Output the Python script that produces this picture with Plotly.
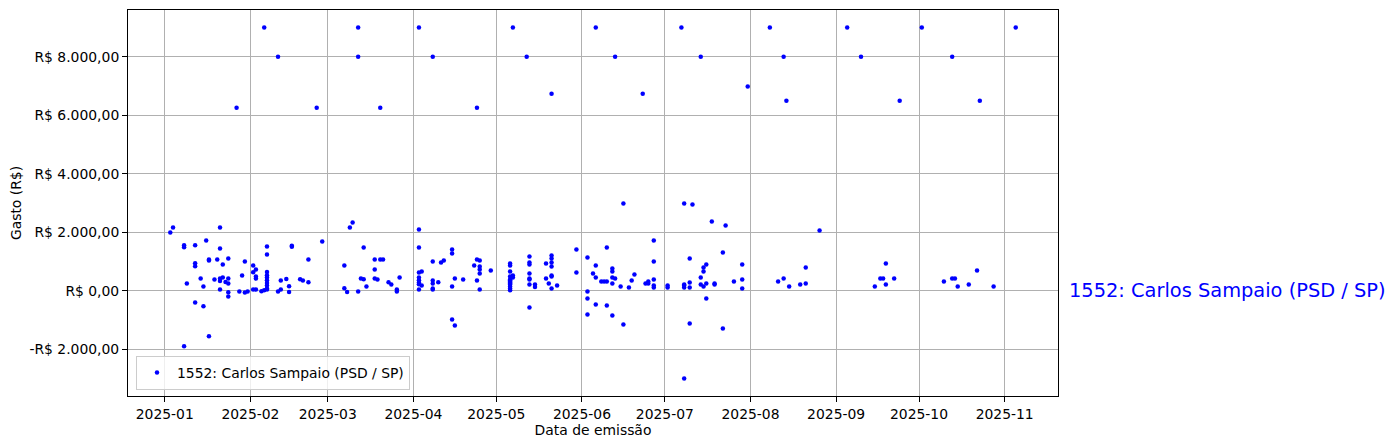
import plotly.graph_objects as go
import pandas as pd

nome = "1552: Carlos Sampaio (PSD / SP)"

datas = [
    # janeiro
    "2025-01-03",
    "2025-01-04",
    "2025-01-08", "2025-01-08", "2025-01-08",
    "2025-01-09",
    "2025-01-12", "2025-01-12", "2025-01-12", "2025-01-12",
    "2025-01-14",
    "2025-01-15", "2025-01-15",
    "2025-01-16",
    "2025-01-17", "2025-01-17", "2025-01-17",
    "2025-01-19",
    "2025-01-20",
    "2025-01-21", "2025-01-21", "2025-01-21", "2025-01-21", "2025-01-21",
    "2025-01-22", "2025-01-22",
    "2025-01-23",
    "2025-01-24", "2025-01-24", "2025-01-24", "2025-01-24", "2025-01-24",
    "2025-01-27",
    "2025-01-28",
    "2025-01-29",
    "2025-01-30", "2025-01-30",
    "2025-01-31",
    # fevereiro
    "2025-02-02", "2025-02-02", "2025-02-02",
    "2025-02-03", "2025-02-03", "2025-02-03", "2025-02-03",
    "2025-02-05",
    "2025-02-06", "2025-02-06",
    "2025-02-07", "2025-02-07", "2025-02-07", "2025-02-07", "2025-02-07",
    "2025-02-07", "2025-02-07", "2025-02-07", "2025-02-07", "2025-02-07",
    "2025-02-11", "2025-02-11",
    "2025-02-12", "2025-02-12",
    "2025-02-14",
    "2025-02-15", "2025-02-15",
    "2025-02-16", "2025-02-16",
    "2025-02-19",
    "2025-02-20",
    "2025-02-22", "2025-02-22",
    "2025-02-25",
    "2025-02-27",
    # marco
    "2025-03-07", "2025-03-07",
    "2025-03-08",
    "2025-03-09",
    "2025-03-10",
    "2025-03-12", "2025-03-12", "2025-03-12",
    "2025-03-13",
    "2025-03-14", "2025-03-14",
    "2025-03-15",
    "2025-03-18", "2025-03-18", "2025-03-18",
    "2025-03-19",
    "2025-03-20", "2025-03-20",
    "2025-03-21",
    "2025-03-23",
    "2025-03-24",
    "2025-03-26", "2025-03-26",
    "2025-03-27",
    # abril
    "2025-04-03", "2025-04-03", "2025-04-03", "2025-04-03", "2025-04-03",
    "2025-04-03", "2025-04-03", "2025-04-03", "2025-04-03",
    "2025-04-04", "2025-04-04",
    "2025-04-08", "2025-04-08", "2025-04-08", "2025-04-08", "2025-04-08", "2025-04-08",
    "2025-04-10",
    "2025-04-11",
    "2025-04-12",
    "2025-04-15", "2025-04-15", "2025-04-15", "2025-04-15",
    "2025-04-16", "2025-04-16",
    "2025-04-19",
    "2025-04-23",
    "2025-04-24", "2025-04-24", "2025-04-24",
    "2025-04-25", "2025-04-25", "2025-04-25", "2025-04-25", "2025-04-25",
    "2025-04-29",
    # maio
    "2025-05-06", "2025-05-06", "2025-05-06", "2025-05-06", "2025-05-06",
    "2025-05-06", "2025-05-06", "2025-05-06", "2025-05-06", "2025-05-06",
    "2025-05-06", "2025-05-06", "2025-05-06",
    "2025-05-07", "2025-05-07", "2025-05-07",
    "2025-05-12",
    "2025-05-13", "2025-05-13", "2025-05-13", "2025-05-13",
    "2025-05-13", "2025-05-13", "2025-05-13", "2025-05-13",
    "2025-05-15", "2025-05-15",
    "2025-05-19", "2025-05-19",
    "2025-05-20",
    "2025-05-21", "2025-05-21", "2025-05-21", "2025-05-21",
    "2025-05-21", "2025-05-21", "2025-05-21", "2025-05-21",
    "2025-05-23",
    "2025-05-30", "2025-05-30",
    # junho
    "2025-06-03", "2025-06-03", "2025-06-03", "2025-06-03",
    "2025-06-05",
    "2025-06-06", "2025-06-06", "2025-06-06", "2025-06-06",
    "2025-06-08",
    "2025-06-09",
    "2025-06-10", "2025-06-10", "2025-06-10",
    "2025-06-12", "2025-06-12", "2025-06-12", "2025-06-12", "2025-06-12",
    "2025-06-13", "2025-06-13",
    "2025-06-15",
    "2025-06-16", "2025-06-16",
    "2025-06-18",
    "2025-06-19",
    "2025-06-20",
    "2025-06-23",
    "2025-06-24",
    "2025-06-25", "2025-06-25",
    "2025-06-27", "2025-06-27", "2025-06-27", "2025-06-27", "2025-06-27",
    # julho
    "2025-07-02", "2025-07-02",
    "2025-07-07",
    "2025-07-08", "2025-07-08", "2025-07-08", "2025-07-08", "2025-07-08",
    "2025-07-10", "2025-07-10", "2025-07-10", "2025-07-10",
    "2025-07-11",
    "2025-07-14", "2025-07-14", "2025-07-14",
    "2025-07-15", "2025-07-15", "2025-07-15",
    "2025-07-16", "2025-07-16", "2025-07-16",
    "2025-07-18",
    "2025-07-19", "2025-07-19",
    "2025-07-22", "2025-07-22",
    "2025-07-23",
    "2025-07-26",
    "2025-07-29", "2025-07-29", "2025-07-29",
    "2025-07-31",
    # agosto
    "2025-08-08",
    "2025-08-11",
    "2025-08-13", "2025-08-13",
    "2025-08-14",
    "2025-08-15",
    "2025-08-19",
    "2025-08-21", "2025-08-21",
    "2025-08-26",
    # setembro
    "2025-09-05",
    "2025-09-10",
    "2025-09-15",
    "2025-09-17",
    "2025-09-18",
    "2025-09-19", "2025-09-19",
    "2025-09-22",
    "2025-09-24",
    # outubro
    "2025-10-02",
    "2025-10-10",
    "2025-10-13", "2025-10-13",
    "2025-10-14",
    "2025-10-15",
    "2025-10-19",
    "2025-10-22",
    "2025-10-23",
    "2025-10-28",
    # novembro
    "2025-11-05",
]

gastos = [
    # janeiro
    1990,
    2160,
    1556, 1487, -1897,
    246,
    1556, 940, 838, -403,
    417,
    143, -530,
    1716,
    1070, 1030, -1556,
    383,
    1066,
    2160, 1443, 417, 336, 41,
    896, 451,
    302,
    1100, 417, 246, -51, -200,
    6260,
    -27,
    519,
    998, -62,
    -27,
    # fevereiro
    860, 632, 41,
    724, 485, 417, 41,
    -17,
    9000, 17,
    1510, 1238, 643, 530, 451,
    359, 267, 178, 75, 41,
    8000, -27,
    349, 41,
    405,
    154, -41,
    1540, 1500,
    393,
    349,
    1066, 291,
    6260,
    1682,
    # marco
    860, 85,
    -41,
    2160,
    2332,
    9000, 8000, -27,
    417,
    1476, 393,
    143,
    1066, 724, 417,
    383,
    6260, 1066,
    1066,
    291,
    212,
    41, -27,
    451,
    # abril
    9000, 2092, 1476, 622, 451,
    359, 280, 222, 41,
    656, 178,
    8000, 998, 349, 246, 75, 41,
    291,
    964,
    1032,
    1409, 1272, 143, -985,
    417, -1190,
    383,
    860,
    6260, 1066, 349,
    1032, 827, 724, 588, 41,
    690,
    # maio
    930, 860, 656, 485, 383,
    359, 314, 280, 246, 212,
    143, 75, 17,
    9000, 519, 451,
    8000,
    1169, 964, 896, 588,
    417, 383, 212, -575,
    212, 131,
    930, 417,
    246,
    6740, 1203, 1101, 964,
    827, 519, 485, 75,
    178,
    1409, 622,
    # junho
    1135, -27, -267, -814,
    588,
    9000, 860, 451, -472,
    314,
    314,
    1476, 314, -506,
    759, 656, 451, 246, -848,
    8000, 417,
    143,
    2980, -1156,
    109,
    349,
    554,
    6740,
    246,
    314, 246,
    1716, 998, 383, 178, 109,
    # julho
    178, 109,
    9000,
    2980, 212, 178, 109, -3000,
    1101, 280, 109, -1121,
    2950,
    8000, 451, 212,
    793, 656, 143,
    896, 246, -267,
    2366,
    246, 212,
    1306, -1292,
    2229,
    314,
    896, 383, 75,
    6980,
    # agosto
    9000,
    314,
    8000, 417,
    6500,
    143,
    212,
    793, 246,
    2058,
    # setembro
    9000,
    8000,
    143,
    417,
    417,
    930, 212,
    417,
    6500,
    # outubro
    9000,
    314,
    8000, 417,
    417,
    143,
    212,
    690,
    6500,
    143,
    # novembro
    9000,
]

x_ticks = ["2025-01-01", "2025-02-01", "2025-03-01", "2025-04-01", "2025-05-01",
           "2025-06-01", "2025-07-01", "2025-08-01", "2025-09-01", "2025-10-01",
           "2025-11-01"]
x_labels = ["2025-01", "2025-02", "2025-03", "2025-04", "2025-05", "2025-06",
            "2025-07", "2025-08", "2025-09", "2025-10", "2025-11"]
y_ticks = [-2000, 0, 2000, 4000, 6000, 8000]
y_labels = ["-R$ 2.000,00", "R$ 0,00", "R$ 2.000,00", "R$ 4.000,00",
            "R$ 6.000,00", "R$ 8.000,00"]

# ranges with 5% margins (matplotlib default)
dt = pd.to_datetime(datas)
xmin, xmax = dt.min(), dt.max()
xpad = (xmax - xmin) * 0.05
ymin, ymax = min(gastos), max(gastos)
ypad = (ymax - ymin) * 0.05

FONT = "DejaVu Sans"
GRID = "#b0b0b0"

fig = go.Figure()
fig.add_trace(go.Scatter(
    x=datas, y=gastos, mode="markers", name=nome,
    marker=dict(color="blue", size=4.5, line=dict(width=0)),
))

axis_common = dict(
    showgrid=True, gridcolor=GRID, gridwidth=1,
    showline=True, linecolor="black", linewidth=1, mirror=True,
    ticks="outside", ticklen=5, tickcolor="black", tickwidth=1,
    zeroline=False,
    tickfont=dict(family=FONT, size=13.9, color="black"),
)

# page body has an 8px margin: figure is shrunk by 8px so the plot area lands
# at the same place as in the reference
fig.update_layout(
    width=1386, height=440,
    margin=dict(l=120, r=336, t=2, b=52),
    paper_bgcolor="white", plot_bgcolor="white",
    font=dict(family=FONT, size=13.9, color="black"),
    showlegend=True,
    legend=dict(
        x=0.0086, y=0.0155, xanchor="left", yanchor="bottom",
        bordercolor="#cccccc", borderwidth=1,
        bgcolor="rgba(255,255,255,0.8)",
        font=dict(family=FONT, size=13.9, color="black"),
    ),
    xaxis=dict(
        type="date",
        range=[xmin - xpad, xmax + xpad],
        tickvals=x_ticks, ticktext=x_labels,
        title=dict(text="Data de emissão", standoff=2,
                   font=dict(family=FONT, size=13.9, color="black")),
        automargin=False,
        **axis_common,
    ),
    yaxis=dict(
        range=[ymin - ypad, ymax + ypad],
        tickvals=y_ticks, ticktext=y_labels,
        title=dict(text="Gasto (R$)", standoff=4,
                   font=dict(family=FONT, size=13.9, color="black")),
        automargin=False,
        **axis_common,
    ),
    annotations=[dict(
        text=nome, xref="paper", yref="y", x=1.0097, y=0,
        xanchor="left", yanchor="middle", showarrow=False,
        font=dict(family=FONT, size=19.4, color="blue"),
    )],
)

fig.write_html("out.html")
